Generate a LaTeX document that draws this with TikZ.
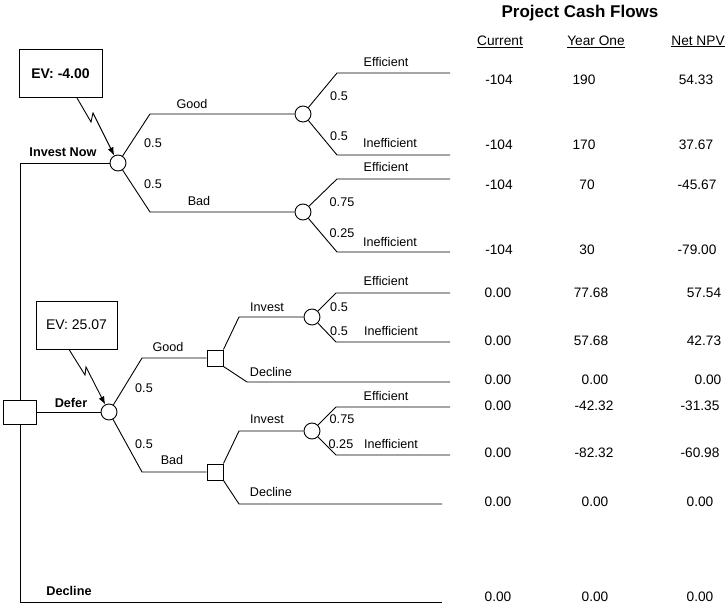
\documentclass[tikz,border=0pt]{standalone}
\usepackage{fontspec}
\setmainfont{Liberation Sans}
\usetikzlibrary{arrows.meta}

\begin{document}
\begin{tikzpicture}[x=1pt, y=-1pt, line width=0.9pt,
    chance/.style={draw, circle, fill=white, minimum size=16pt, inner sep=0pt},
    decision/.style={draw, rectangle, fill=white, minimum width=16pt, minimum height=16pt, inner sep=0pt},
    rootbox/.style={draw, rectangle, fill=white, minimum width=33pt, minimum height=24pt, inner sep=0pt},
    evbox/.style={draw, rectangle, minimum height=48pt, inner sep=0pt, font=\fontsize{14}{16}\selectfont},
    lbl/.style={inner sep=0pt, font=\fontsize{12.6}{15}\selectfont},
    boldlbl/.style={inner sep=0pt, font=\fontsize{12.7}{15}\selectfont\bfseries},
    val/.style={inner sep=0pt, font=\fontsize{13.7}{16}\selectfont},
    bolt/.style={-{Latex[length=8pt,width=6pt]}}]
    \useasboundingbox (0,0) rectangle (726,607);

    % Ends of the branches
    \coordinate (leaf1) at (450,73);
    \coordinate (leaf2) at (450,155);
    \coordinate (leaf3) at (450,179);
    \coordinate (leaf4) at (450,252);
    \coordinate (leaf5) at (450,293);
    \coordinate (leaf6) at (450,342);
    \coordinate (leaf7) at (450,382);
    \coordinate (leaf8) at (450,407);
    \coordinate (leaf9) at (450,455);
    \coordinate (leaf10) at (442,504);
    \coordinate (leaf11) at (442,602);

    % Invest now
    \node[chance] (now) at (118,163) {};
    \node[chance] (nowgood) at (303,114) {};
    \node[chance] (nowbad) at (303,212) {};

    % Defer
    \node[rootbox] (start) at (20,412) {};
    \node[chance] (defer) at (109,412) {};
    \node[decision] (defgood) at (215,358) {};
    \node[decision] (defbad) at (215,472) {};
    \node[chance] (goodinv) at (312,317) {};
    \node[chance] (badinv) at (312,431) {};

    % Trunk
    \draw (now) -- (now -| start) -- (start);
    \draw (start) -- (start |- leaf11) -- (leaf11);
    \draw (start) -- (defer);

    % Branches of invest now
    \draw (now) -- (150,114) -- (nowgood);
    \draw (now) -- (150,212) -- (nowbad);
    \draw (nowgood) -- (337,73) -- (leaf1);
    \draw (nowgood) -- (337,155) -- (leaf2);
    \draw (nowbad) -- (337,179) -- (leaf3);
    \draw (nowbad) -- (337,252) -- (leaf4);

    % Branches of defer
    \draw (defer) -- (142,358) -- (defgood);
    \draw (defer) -- (142,472) -- (defbad);
    \draw (defgood.north east) -- (239,317) -- (goodinv);
    \draw (defgood.south east) -- (247,382) -- (leaf7);
    \draw (goodinv) -- (336,293) -- (leaf5);
    \draw (goodinv) -- (336,342) -- (leaf6);
    \draw (defbad.north east) -- (239,431) -- (badinv);
    \draw (defbad.south east) -- (239,504) -- (leaf10);
    \draw (badinv) -- (336,407) -- (leaf8);
    \draw (badinv) -- (336,455) -- (leaf9);

    % Expected values
    \node[evbox, minimum width=83pt, font=\fontsize{14}{16}\selectfont\bfseries] (evnow) at (60.5,73.5) {EV: -4.00};
    \node[evbox, minimum width=81pt] (evdefer) at (76.5,325) {EV: 25.07};
    \draw[bolt] ([xshift=16.5pt]evnow.south) -- (91,122) -- (93,113) -- (now);
    \draw[bolt] ([xshift=-7.5pt]evdefer.south) -- (85,375) -- (86,367) -- (defer);

    % Labels of invest now
    \node[boldlbl] (lnow) at (63,152) {Invest Now};
    \node[lbl] (lgood1) at (192,104) {Good};
    \node[lbl] (pgood1) at (153,143) {0.5};
    \node[lbl] (pbad1) at (153,184) {0.5};
    \node[lbl] (lbad1) at (199,201) {Bad};
    \node[lbl] (le1) at (386,62) {Efficient};
    \node[lbl] (pe1) at (339,96) {0.5};
    \node[lbl] (pi1) at (339,136) {0.5};
    \node[lbl] (li1) at (390,143) {Inefficient};
    \node[lbl] (le2) at (386,167) {Efficient};
    \node[lbl] (pe2) at (342,202) {0.75};
    \node[lbl] (pi2) at (342,233) {0.25};
    \node[lbl] (li2) at (390,242) {Inefficient};

    % Labels of defer
    \node[boldlbl] (ldefer) at (71,403) {Defer};
    \node[lbl] (lgood2) at (168,347) {Good};
    \node[lbl] (pgood2) at (144,388) {0.5};
    \node[lbl] (pbad2) at (144,444) {0.5};
    \node[lbl] (lbad2) at (172,460) {Bad};
    \node[lbl] (linv1) at (267,307) {Invest};
    \node[lbl] (ldec1) at (271,372) {Decline};
    \node[lbl] (le3) at (386,281) {Efficient};
    \node[lbl] (pe3) at (339,307) {0.5};
    \node[lbl] (pi3) at (339,331) {0.5};
    \node[lbl] (li3) at (391,331) {Inefficient};
    \node[lbl] (linv2) at (267,419) {Invest};
    \node[lbl] (ldec2) at (271,492) {Decline};
    \node[lbl] (le4) at (386,396) {Efficient};
    \node[lbl] (pe4) at (342,419) {0.75};
    \node[lbl] (pi4) at (341,444) {0.25};
    \node[lbl] (li4) at (391,444) {Inefficient};
    \node[boldlbl] (ldecline) at (69,591) {Decline};

    % Project cash flows
    \node[inner sep=0pt, font=\fontsize{17}{20}\selectfont\bfseries] (title) at (580,13) {Project Cash Flows};
    \node[val] (hcur) at (500,41.5) {\underline{Current}};
    \node[val] (hyear) at (596,41.5) {\underline{Year One}};
    \node[val] (hnpv) at (698,41.5) {\underline{Net NPV}};

    \node[val] at (499,80) {-104};  \node[val] at (584,80) {190};    \node[val] at (696,80) {54.33};
    \node[val] at (499,145) {-104}; \node[val] at (584,145) {170};   \node[val] at (696,145) {37.67};
    \node[val] at (499,185) {-104}; \node[val] at (587,185) {70};    \node[val] at (697,185) {-45.67};
    \node[val] at (499,250) {-104}; \node[val] at (587,250) {30};    \node[val] at (697,250) {-79.00};
    \node[val] at (498,293) {0.00}; \node[val] at (591,293) {77.68}; \node[val] at (704,293) {57.54};
    \node[val] at (498,341) {0.00}; \node[val] at (591,341) {57.68}; \node[val] at (704,341) {42.73};
    \node[val] at (498,380) {0.00}; \node[val] at (595,380) {0.00};  \node[val] at (708,380) {0.00};
    \node[val] at (498,406) {0.00}; \node[val] at (594,406) {-42.32}; \node[val] at (700,406) {-31.35};
    \node[val] at (498,453) {0.00}; \node[val] at (594,453) {-82.32}; \node[val] at (700,453) {-60.98};
    \node[val] at (498,502) {0.00}; \node[val] at (595,502) {0.00};  \node[val] at (700,502) {0.00};
    \node[val] at (498,597) {0.00}; \node[val] at (595,597) {0.00};  \node[val] at (700,597) {0.00};
\end{tikzpicture}
\end{document}
